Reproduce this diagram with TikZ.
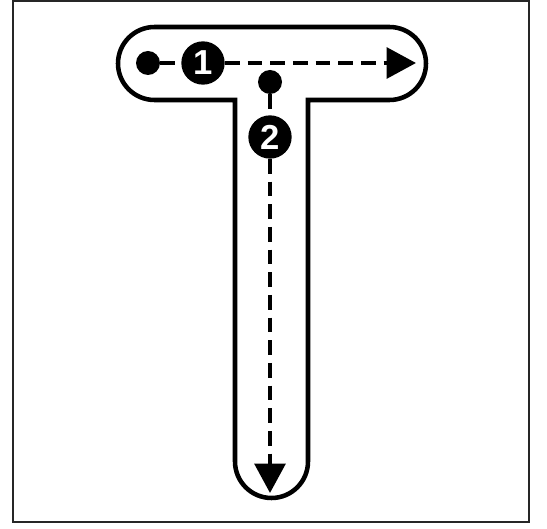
\documentclass[tikz,border=0pt]{standalone}
\usepackage{fontspec}
\setmainfont{Liberation Sans}
\usetikzlibrary{arrows.meta}
\begin{document}
\begin{tikzpicture}[x=0.75pt,y=0.75pt,
  outline/.style={line width=3.4pt,line join=miter},
  dot/.style={circle,fill=black,inner sep=0pt,minimum size=18pt},
  numcirc/.style={circle,fill=black,inner sep=0pt,minimum size=32.5pt,text=white,font=\fontsize{26}{26}\selectfont\bfseries},
  dashline/.style={line width=3pt,dash pattern=on 11pt off 6pt,-{Triangle[length=22pt,width=23pt]}},
  dashplain/.style={line width=3pt,dash pattern=on 11pt off 6pt}]
\useasboundingbox (0,0) rectangle (547,529);
% frame
\draw[line width=1.6pt,draw=black!85] (13,528.5) rectangle (529,7);
% T outline
\draw[outline] (235,429) -- (154.5,429) arc[start angle=270,end angle=90,radius=36.5]
  -- (389.5,502) arc[start angle=90,end angle=-90,radius=36.5]
  -- (308,429) -- (308,67.5) arc[start angle=0,end angle=-180,radius=36.5] -- cycle;
% stroke 1
\coordinate (e1) at (416,466);
\node[dot] (d1) at (148,466) {};
\node[numcirc] (c1) at (203,466) {1};
\draw[dashplain] (d1) -- (c1);
\draw[dashline] (c1) -- (e1);
% stroke 2
\coordinate (e2) at (270,36);
\node[dot] (d2) at (270,447) {};
\node[numcirc] (c2) at (270,392) {2};
\draw[dashplain] (d2) -- (c2);
\draw[dashline] (c2) -- (e2);
\end{tikzpicture}
\end{document}
